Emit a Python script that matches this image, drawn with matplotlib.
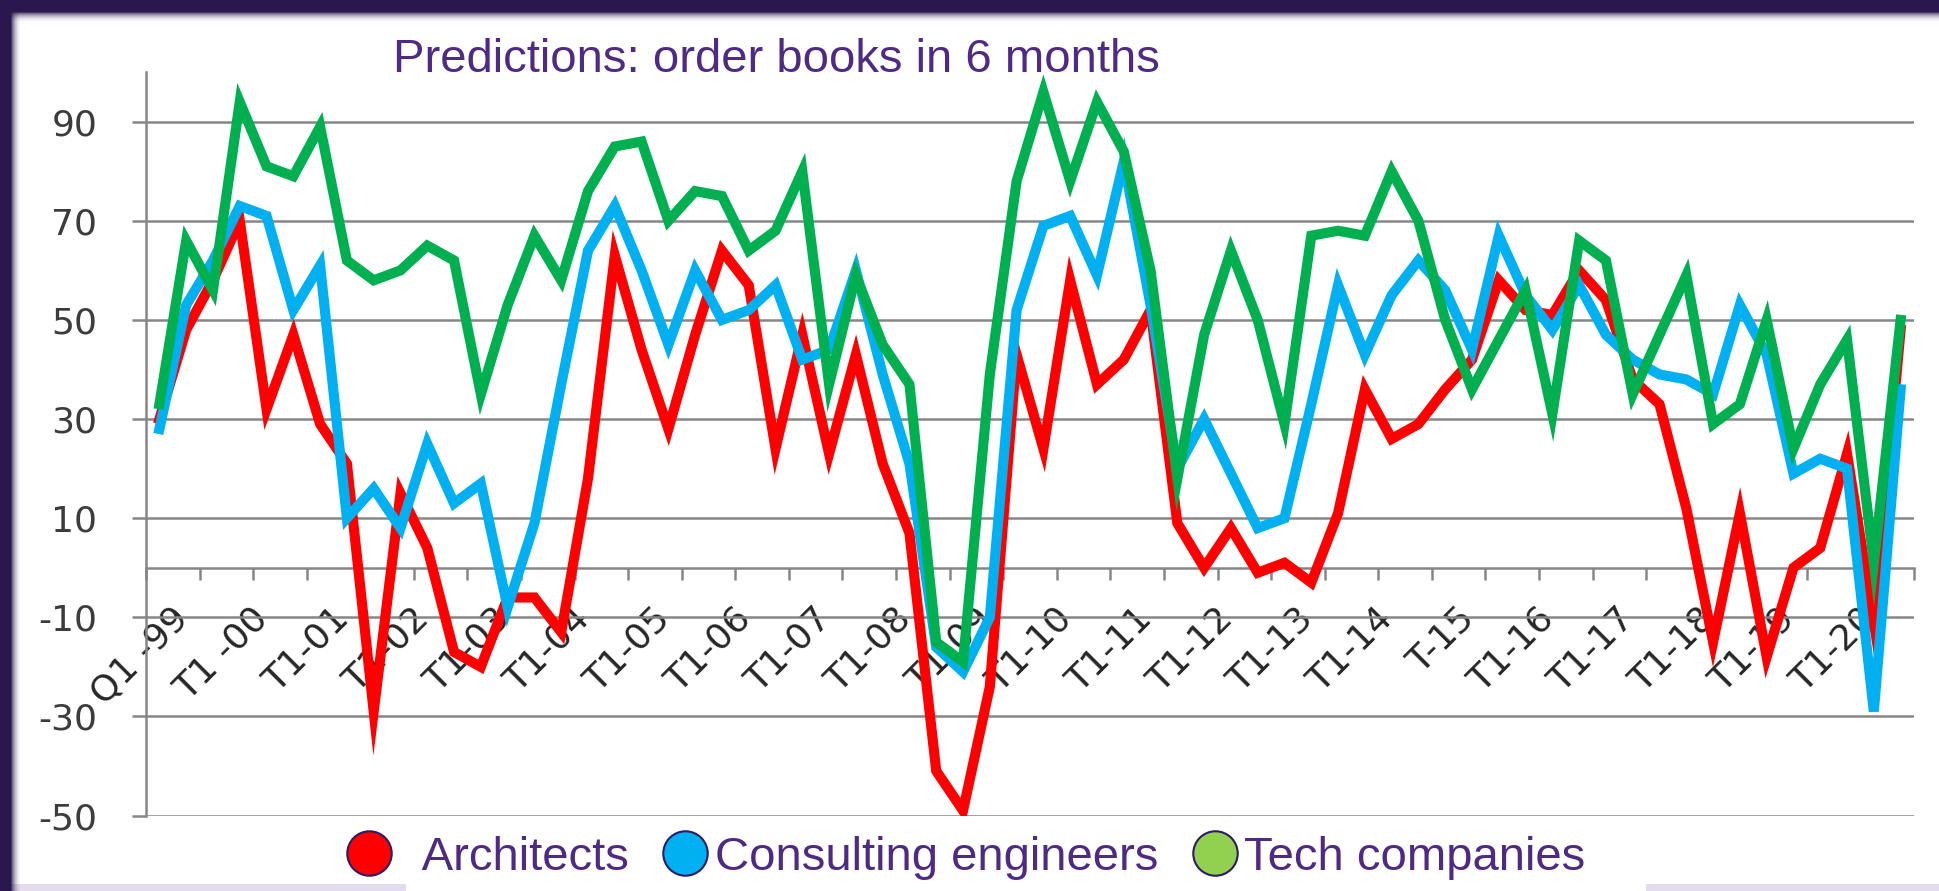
import numpy as np
import matplotlib.pyplot as plt
from matplotlib.lines import Line2D
from matplotlib.patches import Rectangle
from matplotlib.transforms import ScaledTranslation

plt.rcParams['axes.unicode_minus'] = False

# x labels: one every 3 points (3 surveys a year)
tick_labels = ['Q1 -99', 'T1 -00', 'T1-01', 'T1-02', 'T1-03', 'T1-04', 'T1-05',
               'T1-06', 'T1-07', 'T1-08', 'T1-09', 'T1-10', 'T1-11', 'T1-12',
               'T1-13', 'T1-14', 'T-15', 'T1-16', 'T1-17', 'T1-18', 'T1-19', 'T1-20']

architects = [30, 48, 58, 70, 32, 47, 29, 21, -29, 15, 4,
              -17, -20, -6, -6, -13, 18, 63, 44, 28, 47, 64,
              57, 24, 47, 23, 43, 21, 7, -41, -49, -24, 43,
              24, 58, 37, 42, 52, 9, 0, 8, -1, 1, -3,
              11, 36, 26, 29, 36, 42, 58, 52, 51, 60, 54,
              38, 33, 12, -15, 11, -18, 0, 4, 23, -11, 48]

consulting = [28, 53, 62, 73, 71, 52, 61, 10, 16, 8, 25,
              13, 17, -8, 9, 37, 64, 73, 60, 45, 60, 50,
              52, 57, 42, 44, 60, 39, 21, -16, -21, -10, 52,
              69, 71, 59, 82, 53, 20, 30, 19, 8, 10, 33,
              57, 43, 55, 62, 56, 44, 67, 55, 48, 57, 47,
              42, 39, 38, 35, 53, 43, 19, 22, 20, -29, 36]

tech = [33, 66, 56, 94, 81, 79, 89, 62, 58, 60, 65,
        62, 35, 53, 67, 58, 76, 85, 86, 70, 76, 75,
        64, 68, 80, 37, 59, 45, 37, -15, -19, 39, 78,
        96, 78, 94, 84, 60, 18, 47, 64, 50, 29, 67,
        68, 67, 80, 70, 50, 36, 46, 56, 31, 66, 62,
        35, 47, 59, 29, 33, 50, 24, 37, 46, 1, 50]

series_names = ['  Architects', 'Consulting engineers', 'Tech companies']
line_colors = ['#FF0000', '#00B0F0', '#00B050']
legend_colors = ['#FF0000', '#00B0F0', '#92D050']
purple = '#4E2A84'
grid_grey = '#868686'

W, H = 1939, 891
fig = plt.figure(figsize=(W / 100, H / 100), dpi=100, facecolor='white')


def px_rect(x0, y0, x1, y1, color, alpha=1.0):
    '''rectangle given in pixels from the top left corner'''
    fig.patches.append(Rectangle((x0 / W, 1 - y1 / H), (x1 - x0) / W, (y1 - y0) / H,
                                 transform=fig.transFigure, facecolor=color,
                                 edgecolor='none', alpha=alpha, zorder=-5))


# slide frame: dark band on top and left, pale strip at the bottom
px_rect(0, 884, 406, 891, '#e2dcec')
px_rect(1646, 884, W, 891, '#e2dcec')
fade = [0.85, 0.65, 0.5, 0.38, 0.28, 0.2, 0.13, 0.08, 0.04]
for k, a in enumerate(fade):
    px_rect(0, 12 + k, W, 13 + k, '#2a174d', a)
    px_rect(11 + k, 0, 12 + k, H, '#2a174d', a)
px_rect(0, 0, W, 12, '#2a174d')
px_rect(0, 0, 11, H, '#2a174d')

ax = fig.add_axes([146 / W, 0.0847, (1914 - 146) / W, 0.8343])
ax.set_axisbelow(True)

# spines first: moving the bottom spine rebuilds the ticks
for s in ['top', 'right']:
    ax.spines[s].set_visible(False)
ax.spines['bottom'].set_position(('data', 0))
for s in ['bottom', 'left']:
    ax.spines[s].set_color(grid_grey)
    ax.spines[s].set_linewidth(1.8)

x = np.arange(len(architects))
for vals, c in zip([architects, consulting, tech], line_colors):
    ax.plot(x, vals, color=c, lw=7.3, solid_joinstyle='miter', zorder=3)

ax.set_xlim(-0.5, len(x) - 0.5)
ax.set_ylim(-50, 100)
yt = np.arange(-50, 91, 20)
ax.set_yticks(yt)
ax.set_yticklabels([str(v) for v in yt])
ax.yaxis.grid(True, color=grid_grey, lw=1.8)
ax.tick_params(axis='y', length=10, width=1.8, color=grid_grey, pad=25,
               labelsize=26, labelcolor='#3c3c3c')

ax.set_xticks(np.arange(-0.5, len(x), 2), minor=True)
ax.tick_params(axis='x', which='minor', length=8.5, width=1.8, color=grid_grey,
               direction='out')
ax.tick_params(axis='x', which='major', length=0, pad=24, labelsize=26,
               labelcolor='#262626', labelrotation=45)
ax.set_xticks(np.arange(0, len(x), 3))
ax.set_xticklabels(tick_labels)
shift = ScaledTranslation(0.35, 0, fig.dpi_scale_trans)
for lbl in ax.get_xticklabels():
    lbl.set_horizontalalignment('right')
    lbl.set_verticalalignment('top')
    lbl.set_transform(lbl.get_transform() + shift)

fig.text(776 / W, 1 - 72 / H, 'Predictions: order books in 6 months',
         ha='center', va='baseline', fontsize=34, family='Liberation Sans',
         color=purple)

handles = [Line2D([], [], ls='none', marker='o', markersize=32,
                  markerfacecolor=c, markeredgecolor='#2d1b69', markeredgewidth=1.5)
           for c in legend_colors]
fig.legend(handles, series_names, loc='center left',
           bbox_to_anchor=(345 / W, 1 - 858 / H), ncol=3, frameon=False,
           prop={'family': 'Liberation Sans', 'size': 34}, labelcolor=purple,
           handlelength=1.0, handletextpad=0.12, columnspacing=0.7,
           borderpad=0, borderaxespad=0)

fig.savefig('out.png', dpi=100, facecolor=fig.get_facecolor())
